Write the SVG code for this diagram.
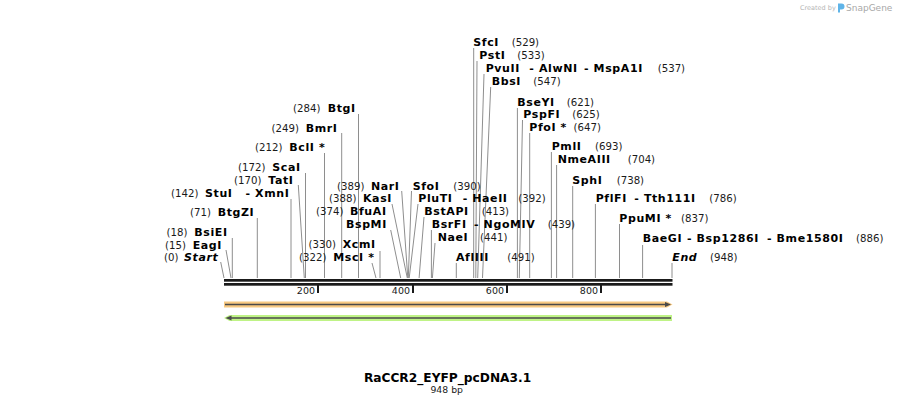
<svg xmlns="http://www.w3.org/2000/svg" width="897" height="406" viewBox="0 0 897 406">
<style>
text{font-family:"DejaVu Sans",Verdana,sans-serif;fill:#000}
.u{font-size:10.2px;fill:#1a1a1a}
.l{font-size:10.2px;fill:#1a1a1a;text-anchor:end}
.b{font-size:11px;font-weight:bold;letter-spacing:0.6px}
.i{font-size:11px;font-weight:bold;font-style:italic;letter-spacing:0.6px}
.ax{font-size:9.5px;fill:#1a1a1a}
.cut line{stroke:#8e8e8e;stroke-width:1;fill:none}
.wm{fill:#b5b5b5}
</style>
<rect width="897" height="406" fill="#fff"/>
<g id="watermark">
<text class="wm" x="800" y="10" style="font-size:6.5px">Created by</text>
<path d="M838 3.5h3.5a3 3 0 0 1 0 6h-1.5v3h-2z" fill="#5fb4e8"/>
<text class="wm" x="846" y="10.5" style="font-size:9px;fill:#a8a8a8">SnapGene</text>
</g>
<g id="sequence">
<rect x="224" y="279" width="448.5" height="2.7" fill="#1a1a1a"/>
<rect x="224" y="283" width="448.5" height="2.7" fill="#1a1a1a"/>
<rect x="317" y="285" width="2" height="8" fill="#1a1a1a"/>
<rect x="412" y="285" width="2" height="8" fill="#1a1a1a"/>
<rect x="506" y="285" width="2" height="8" fill="#1a1a1a"/>
<rect x="600" y="285" width="2" height="8" fill="#1a1a1a"/>
<text class="ax" x="315" y="294" text-anchor="end">200</text>
<text class="ax" x="410" y="294" text-anchor="end">400</text>
<text class="ax" x="504" y="294" text-anchor="end">600</text>
<text class="ax" x="598" y="294" text-anchor="end">800</text>
</g>
<g id="feature-forward">
<polygon points="224,301.5 667,301.5 672.5,304.5 667,307.5 224,307.5" fill="#f8c981"/>
<line x1="225" y1="304.5" x2="667" y2="304.5" stroke="#4a4a4a" stroke-width="1.5"/>
<polygon points="665,302 671,304.5 665,307" fill="#4a4a4a"/>
</g>
<g id="feature-reverse">
<polygon points="229.5,315 672,315 672,321 229.5,321 224,318" fill="#bff386"/>
<line x1="230" y1="318" x2="671" y2="318" stroke="#4a4a4a" stroke-width="1.5"/>
<polygon points="231.5,315.5 225.5,318 231.5,320.5" fill="#4a4a4a"/>
</g>
<g id="connectors" class="cut">
<line x1="220.7" y1="262" x2="224" y2="278"/>
<line x1="226" y1="250" x2="231" y2="278"/>
<line x1="232.3" y1="238" x2="232.3" y2="278"/>
<line x1="257.3" y1="218" x2="257.3" y2="278"/>
<line x1="291" y1="199" x2="291" y2="278"/>
<line x1="298.3" y1="185" x2="304.3" y2="278"/>
<line x1="305.5" y1="173" x2="305.5" y2="278"/>
<line x1="324.5" y1="153" x2="324.5" y2="278"/>
<line x1="341.7" y1="133" x2="341.7" y2="278"/>
<line x1="358.5" y1="114" x2="358.5" y2="278"/>
<line x1="372" y1="263" x2="376" y2="278"/>
<line x1="380" y1="251" x2="380" y2="278"/>
<line x1="390.7" y1="230" x2="400.7" y2="278"/>
<line x1="392" y1="204" x2="407.3" y2="278"/>
<line x1="401.7" y1="191" x2="407.8" y2="278"/>
<line x1="411.5" y1="191" x2="408.3" y2="278"/>
<line x1="418" y1="204" x2="409.2" y2="278"/>
<line x1="424" y1="217" x2="419.1" y2="278"/>
<line x1="431.4" y1="230" x2="431.4" y2="278"/>
<line x1="435" y1="243" x2="432.4" y2="278"/>
<line x1="456.3" y1="263" x2="456.3" y2="278"/>
<line x1="473.7" y1="48" x2="473.7" y2="278"/>
<line x1="477" y1="61" x2="475.8" y2="278"/>
<line x1="484" y1="74" x2="477.7" y2="278"/>
<line x1="490.7" y1="87" x2="482.5" y2="278"/>
<line x1="517.4" y1="108" x2="517.4" y2="278"/>
<line x1="522.5" y1="120" x2="519.3" y2="278"/>
<line x1="529.7" y1="133" x2="529.7" y2="278"/>
<line x1="551.4" y1="152" x2="551.4" y2="278"/>
<line x1="556.6" y1="165" x2="556.6" y2="278"/>
<line x1="572.7" y1="186" x2="572.7" y2="278"/>
<line x1="595.4" y1="204" x2="595.4" y2="278"/>
<line x1="619.5" y1="224" x2="619.5" y2="278"/>
<line x1="642.6" y1="245" x2="642.6" y2="278"/>
<line x1="672" y1="263" x2="672" y2="278"/>
</g>
<g id="site-start"><text y="261"><tspan class="l" x="178.5">(0)</tspan><tspan class="i" x="184">Start</tspan></text></g>
<g id="site-EagI"><text y="248.5"><tspan class="l" x="186">(15)</tspan><tspan class="b" x="192.7">EagI</tspan></text></g>
<g id="site-BsiEI"><text y="236"><tspan class="l" x="187.5">(18)</tspan><tspan class="b" x="194.3">BsiEI</tspan></text></g>
<g id="site-BtgZI"><text y="215.5"><tspan class="l" x="211">(71)</tspan><tspan class="b" x="217.7">BtgZI</tspan></text></g>
<g id="site-StuI"><text y="197"><tspan class="l" x="198.5">(142)</tspan><tspan class="b" x="205">StuI</tspan><tspan class="b" x="245.5">- XmnI</tspan></text></g>
<g id="site-TatI"><text y="183.5"><tspan class="l" x="261.5">(170)</tspan><tspan class="b" x="268.3">TatI</tspan></text></g>
<g id="site-ScaI"><text y="171"><tspan class="l" x="265.5">(172)</tspan><tspan class="b" x="272.3">ScaI</tspan></text></g>
<g id="site-BclI"><text y="151"><tspan class="l" x="282.5">(212)</tspan><tspan class="b" x="289.3">BclI *</tspan></text></g>
<g id="site-BmrI"><text y="131.5"><tspan class="l" x="299">(249)</tspan><tspan class="b" x="305.7">BmrI</tspan></text></g>
<g id="site-BtgI"><text y="112"><tspan class="l" x="320.5">(284)</tspan><tspan class="b" x="327.7">BtgI</tspan></text></g>
<g id="site-MscI"><text y="261"><tspan class="l" x="326.5">(322)</tspan><tspan class="b" x="333.3">MscI *</tspan></text></g>
<g id="site-XcmI"><text y="248"><tspan class="l" x="336">(330)</tspan><tspan class="b" x="342.7">XcmI</tspan></text></g>
<g id="site-BfuAI"><text y="215"><tspan class="l" x="343.5">(374)</tspan><tspan class="b" x="350">BfuAI</tspan></text><text y="228"><tspan class="b" x="346">BspMI</tspan></text></g>
<g id="site-KasI"><text y="202"><tspan class="l" x="356.5">(388)</tspan><tspan class="b" x="363">KasI</tspan></text></g>
<g id="site-NarI"><text y="189.5"><tspan class="l" x="364.5">(389)</tspan><tspan class="b" x="371">NarI</tspan></text></g>
<g id="site-SfoI"><text y="189.5"><tspan class="b" x="412.7">SfoI</tspan><tspan class="u" x="453.3">(390)</tspan></text></g>
<g id="site-PluTI"><text y="202"><tspan class="b" x="418.3">PluTI</tspan><tspan class="b" x="462.7">- HaeII</tspan><tspan class="u" x="518.3">(392)</tspan></text></g>
<g id="site-BstAPI"><text y="215"><tspan class="b" x="424.3">BstAPI</tspan><tspan class="u" x="481.7">(413)</tspan></text></g>
<g id="site-BsrFI"><text y="228"><tspan class="b" x="431.7">BsrFI</tspan><tspan class="b" x="474">- NgoMIV</tspan><tspan class="u" x="547.7">(439)</tspan></text></g>
<g id="site-NaeI"><text y="241"><tspan class="b" x="437.7">NaeI</tspan><tspan class="u" x="480">(441)</tspan></text></g>
<g id="site-AflIII"><text y="261"><tspan class="b" x="456">AflIII</tspan><tspan class="u" x="507.3">(491)</tspan></text></g>
<g id="site-SfcI"><text y="46"><tspan class="b" x="473.3">SfcI</tspan><tspan class="u" x="511.7">(529)</tspan></text></g>
<g id="site-PstI"><text y="59"><tspan class="b" x="479.3">PstI</tspan><tspan class="u" x="517.3">(533)</tspan></text></g>
<g id="site-PvuII"><text y="72"><tspan class="b" x="485.7">PvuII</tspan><tspan class="b" x="529.3">- AlwNI</tspan><tspan class="b" x="584">- MspA1I</tspan><tspan class="u" x="657.7">(537)</tspan></text></g>
<g id="site-BbsI"><text y="84.5"><tspan class="b" x="491.7">BbsI</tspan><tspan class="u" x="533.3">(547)</tspan></text></g>
<g id="site-BseYI"><text y="105.5"><tspan class="b" x="517.3">BseYI</tspan><tspan class="u" x="566.7">(621)</tspan></text></g>
<g id="site-PspFI"><text y="118"><tspan class="b" x="523.3">PspFI</tspan><tspan class="u" x="572.3">(625)</tspan></text></g>
<g id="site-PfoI"><text y="131"><tspan class="b" x="529.3">PfoI *</tspan><tspan class="u" x="573.5">(647)</tspan></text></g>
<g id="site-PmlI"><text y="150"><tspan class="b" x="551.7">PmlI</tspan><tspan class="u" x="595">(693)</tspan></text></g>
<g id="site-NmeAIII"><text y="163"><tspan class="b" x="557.7">NmeAIII</tspan><tspan class="u" x="627.7">(704)</tspan></text></g>
<g id="site-SphI"><text y="183.5"><tspan class="b" x="572.3">SphI</tspan><tspan class="u" x="616.7">(738)</tspan></text></g>
<g id="site-PflFI"><text y="202"><tspan class="b" x="595.7">PflFI</tspan><tspan class="b" x="634.3">- Tth111I</tspan><tspan class="u" x="709.3">(786)</tspan></text></g>
<g id="site-PpuMI"><text y="221.5"><tspan class="b" x="619.3">PpuMI *</tspan><tspan class="u" x="681">(837)</tspan></text></g>
<g id="site-BaeGI"><text y="242"><tspan class="b" x="642.7">BaeGI</tspan><tspan class="b" x="687">- Bsp1286I</tspan><tspan class="b" x="767">- Bme1580I</tspan><tspan class="u" x="856">(886)</tspan></text></g>
<g id="site-end"><text y="261"><tspan class="i" x="672.3">End</tspan><tspan class="u" x="710">(948)</tspan></text></g>
<g id="title">
<text x="447.5" y="382" text-anchor="middle" style="font-size:12.2px;font-weight:bold">RaCCR2_EYFP_pcDNA3.1</text>
<text x="446.7" y="393" text-anchor="middle" style="font-size:9.3px;fill:#1a1a1a">948 bp</text>
</g>
</svg>
